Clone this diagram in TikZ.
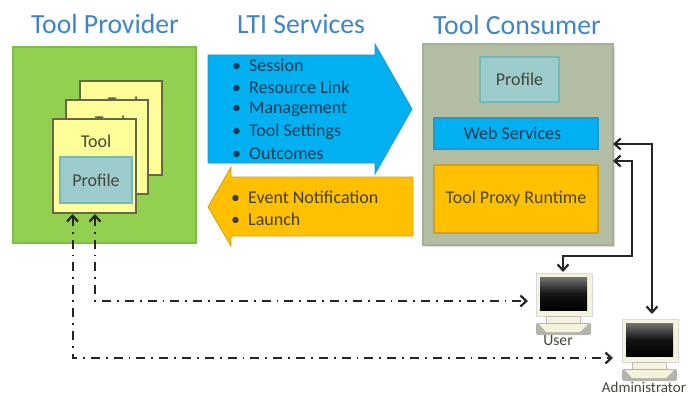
\documentclass[tikz,border=0pt]{standalone}
\usepackage{fontspec}
\setmainfont{Carlito}
\usetikzlibrary{arrows.meta,calc}
\definecolor{titleblue}{HTML}{3D85C6}
\definecolor{leaf}{HTML}{92D050}
\definecolor{leafedge}{HTML}{80BC48}
\definecolor{sheet}{HTML}{FFFF99}
\definecolor{sheetedge}{HTML}{66664A}
\definecolor{prof}{HTML}{9CCBCB}
\definecolor{profedge}{HTML}{74B8B8}
\definecolor{sky}{HTML}{00B0F0}
\definecolor{skyedge}{HTML}{1C9CD0}
\definecolor{amber}{HTML}{FFC000}
\definecolor{amberedge}{HTML}{D0A020}
\definecolor{sage}{HTML}{B3BDA3}
\definecolor{sageedge}{HTML}{A4B092}
\definecolor{ink}{HTML}{45453A}
\definecolor{navyink}{HTML}{123A52}
\definecolor{cream}{HTML}{F6F3DC}
\definecolor{footgrey}{HTML}{B4B4AC}
\tikzset{
  x=1pt,y=-1pt,
  >={Straight Barb[length=6pt,width=11pt,line width=2.2pt]},
  box/.style={draw,line width=1.1pt,inner sep=0pt,outer sep=0pt,align=center,text=ink,font=\fontsize{18}{20}\selectfont},
  sheettext/.style={inner sep=0pt,text=ink,font=\fontsize{18}{20}\selectfont},
  titlelabel/.style={text=titleblue,font=\fontsize{27.7}{32}\selectfont,inner sep=0pt},
  item/.style={anchor=west,inner sep=0pt,font=\fontsize{18}{20}\selectfont,text=navyink},
  orangeitem/.style={item,text=ink!90!black},
  link/.style={draw=black!85,line width=2pt,<->},
  dashlink/.style={link,dash pattern=on 9pt off 6pt on 1.8pt off 6pt},
  caption/.style={inner sep=0pt,text=ink,font=\fontsize{15.7}{18}\selectfont},
}
\newcommand{\bl}[1]{\makebox[17pt][l]{\textbullet}#1}
\newcommand{\computer}[3]{%
  \fill[cream,draw=white!85!black,line width=.6pt] (#2,#3) rectangle ++(56,43);
  \shade[top color=black!55,bottom color=black,middle color=black!92] (#2+4,#3+4) rectangle ++(47,33);
  \fill[cream,draw=black!25,line width=.5pt] (#2+10,#3+43) rectangle ++(34,7);
  \fill[footgrey,rounded corners=2pt] (#2,#3+50) rectangle ++(55,12);
  \fill[cream] (#2+3,#3+51) -- (#2+52,#3+51) -- (#2+44,#3+59) -- (#2+10,#3+59) -- cycle;
  \coordinate (#1 top) at (#2+27,#3);
  \coordinate (#1 left) at (#2,#3+28);
}
\begin{document}
\begin{tikzpicture}
\useasboundingbox (0,0) rectangle (691,396);

% titles
\node[titlelabel] (ttp) at (105,24) {Tool Provider};
\node[titlelabel] (tlti) at (301,24) {LTI Services};
\node[titlelabel] (ttc) at (517,25) {Tool Consumer};

% tool provider
\node[box,fill=leaf,draw=leafedge,minimum width=183pt,minimum height=196pt] (provider) at (104.5,145) {};
\node[box,fill=sheet,draw=sheetedge,minimum width=82pt,minimum height=94pt] (sheetc) at (121,128) {};
\node[sheettext] (toolc) at (123,103) {Tool};
\node[box,fill=sheet,draw=sheetedge,minimum width=82pt,minimum height=94pt] (sheetb) at (107,147) {};
\node[sheettext] (toolb) at (110,122) {Tool};
\node[box,fill=sheet,draw=sheetedge,minimum width=83pt,minimum height=94pt] (sheeta) at (94.5,166) {};
\node[sheettext] (toola) at (96,141) {Tool};
\node[box,fill=prof,draw=profedge,minimum width=72pt,minimum height=46pt] (profilea) at (96,180) {Profile};

% LTI services arrows
\fill[sky,draw=skyedge,line width=.8pt] (208,55) -- (375,55) -- (375,44) -- (412,109) -- (375,174) -- (375,163) -- (208,163) -- cycle;
\fill[amber,draw=amberedge,line width=.8pt] (413,177) -- (231,177) -- (231,167) -- (208,207) -- (231,246) -- (231,236) -- (413,236) -- cycle;
\node[item] (s1) at (232,65) {\bl{Session}};
\node[item] (s2) at (232,87) {\bl{Resource Link}};
\node[item] (s3) at (232,109.5) {\bl{Management}};
\node[item] (s4) at (232,131.5) {\bl{Tool Settings}};
\node[item] (s5) at (232,153.5) {\bl{Outcomes}};
\node[orangeitem] (e1) at (231,197) {\bl{Event Notification}};
\node[orangeitem] (e2) at (231,219.5) {\bl{Launch}};

% tool consumer
\fill[black!14] (425,47) rectangle (615,247);
\node[box,fill=sage,draw=sageedge,minimum width=190pt,minimum height=201pt] (consumer) at (518,144.5) {};
\node[box,fill=prof,draw=profedge,minimum width=79pt,minimum height=45pt] (profileb) at (519.5,79.5) {Profile};
\node[box,fill=sky,draw=skyedge,minimum width=164pt,minimum height=31pt,text=navyink] (web) at (516,133.5) {\kern-7pt Web Services};
\node[box,fill=amber,draw=amberedge,minimum width=164pt,minimum height=68pt] (proxy) at (516,199) {Tool Proxy Runtime};

% computers
\computer{user}{536}{273}
\computer{admin}{622}{319}
\node[caption] (userlabel) at (558,340.5) {User};
\node[caption,font=\fontsize{15}{17}\selectfont] (adminlabel) at (644,387.5) {Administrator};

% connectors
\coordinate (consumerhigh) at ($(consumer.north east)+(0,100)$);
\coordinate (consumerlow) at ($(consumer.north east)+(0,117)$);
\coordinate (adminend) at ($(admin top)+(3,-5)$);
\coordinate (userend) at ($(user top)+(0,-1)$);
\coordinate (upa) at ($(sheeta.south)+(-22,1)$);
\coordinate (upb) at ($(sheeta.south)+(0.5,1)$);
\coordinate (userside) at ($(user left)+(-8,0)$);
\coordinate (adminside) at ($(admin left)+(-9,11)$);
\draw[link] (consumerhigh) -| (adminend);
\draw[link] (consumerlow) -| (632,256) -| (userend);
\draw[dashlink] (upb) |- (userside);
\draw[dashlink] (upa) |- (adminside);
\end{tikzpicture}
\end{document}
